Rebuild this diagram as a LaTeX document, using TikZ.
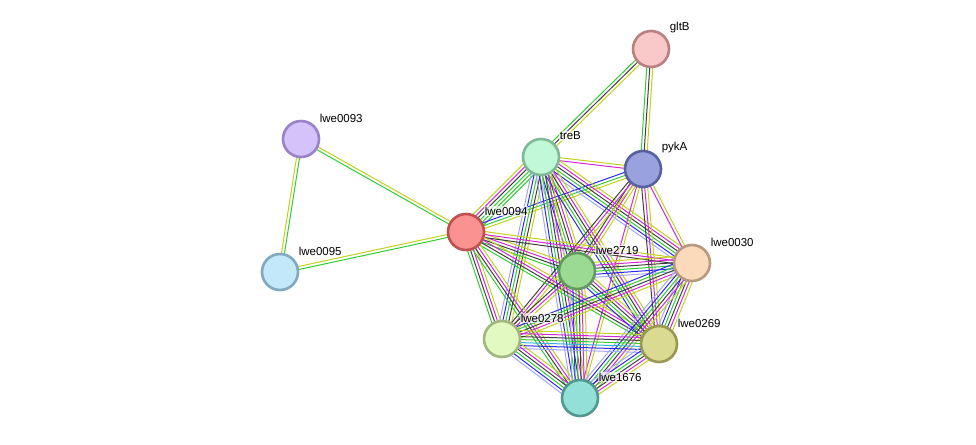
\documentclass[tikz,border=0pt]{standalone}
\usepackage{fontspec}
\setmainfont{Liberation Sans}
\usetikzlibrary{calc, backgrounds}

% evidence channel colours
\definecolor{nbhd}{HTML}{33CC33}
\definecolor{cooc}{HTML}{2B2BF0}
\definecolor{coexp}{HTML}{404040}
\definecolor{expt}{HTML}{D22AD2}
\definecolor{dbase}{HTML}{2EB4DC}
\definecolor{txtm}{HTML}{C2D11E}
\definecolor{homol}{HTML}{A4A8FA}

% one bundle of parallel lines between two proteins
\newcommand{\bundle}[3]{%
  \foreach \c [count=\k] in {#3} {\xdef\nlines{\k}}%
  \foreach \c [count=\k] in {#3} {%
    \pgfmathsetmacro{\off}{(\k-(\nlines+1)/2)*3}%
    \draw[link, draw=\c] ($(#1)!\off pt!90:(#2)$) -- ($(#2)!\off pt!-90:(#1)$);%
  }%
}

\begin{document}
\begin{tikzpicture}[x=1pt, y=-1pt,
    link/.style={line width=1pt},
    prot/.style={circle, line width=2.6pt, minimum size=36pt, inner sep=0pt},
    lbl/.style={anchor=west, inner sep=0.6pt, fill=white, fill opacity=0.65, text opacity=1,
                font=\fontsize{11.5}{13}\selectfont}]
    \useasboundingbox (0,0) rectangle (976,444);

    \node[prot, fill={rgb,255:red,249;green,200;blue,200}, draw={rgb,255:red,184;green,128;blue,128}] (gltB) at (651,49) {};
    \node[prot, fill={rgb,255:red,212;green,194;blue,250}, draw={rgb,255:red,154;green,130;blue,200}] (lwe0093) at (301,139) {};
    \node[prot, fill={rgb,255:red,192;green,248;blue,216}, draw={rgb,255:red,128;green,184;blue,152}] (treB) at (541,157) {};
    \node[prot, fill={rgb,255:red,154;green,162;blue,222}, draw={rgb,255:red,88;green,96;blue,160}] (pykA) at (643,169) {};
    \node[prot, fill={rgb,255:red,250;green,146;blue,146}, draw={rgb,255:red,192;green,80;blue,80}] (lwe0094) at (466,232) {};
    \node[prot, fill={rgb,255:red,194;green,232;blue,250}, draw={rgb,255:red,128;green,168;blue,192}] (lwe0095) at (280,272) {};
    \node[prot, fill={rgb,255:red,154;green,218;blue,146}, draw={rgb,255:red,96;green,152;blue,96}] (lwe2719) at (577,271) {};
    \node[prot, fill={rgb,255:red,250;green,218;blue,186}, draw={rgb,255:red,184;green,152;blue,128}] (lwe0030) at (692,263) {};
    \node[prot, fill={rgb,255:red,226;green,250;blue,194}, draw={rgb,255:red,160;green,184;blue,128}] (lwe0278) at (502,339) {};
    \node[prot, fill={rgb,255:red,218;green,218;blue,146}, draw={rgb,255:red,152;green,152;blue,80}] (lwe0269) at (659,344) {};
    \node[prot, fill={rgb,255:red,146;green,224;blue,216}, draw={rgb,255:red,80;green,152;blue,144}] (lwe1676) at (580,398) {};

    % labels
    \foreach \p in {gltB, lwe0093, treB, pykA, lwe0094, lwe0095, lwe2719, lwe0030, lwe0278, lwe0269, lwe1676}
        \node[lbl] (\p-lbl) at ($(\p)+(18,-21)$) {\p};

    \begin{pgfonlayer}{background}
        \bundle{gltB}{treB}{nbhd, coexp, txtm}
        \bundle{gltB}{pykA}{nbhd, coexp, txtm}
        \bundle{lwe0093}{lwe0094}{nbhd, txtm}
        \bundle{lwe0093}{lwe0095}{txtm, nbhd}
        \bundle{lwe0095}{lwe0094}{nbhd, txtm}
        \bundle{treB}{lwe0094}{txtm, expt, coexp, nbhd, nbhd, nbhd}
        \bundle{lwe0094}{pykA}{txtm, nbhd, cooc}
        \bundle{treB}{pykA}{expt, txtm}
        \bundle{treB}{lwe2719}{homol, cooc, nbhd, coexp, expt, txtm}
        \bundle{treB}{lwe0030}{homol, cooc, nbhd, coexp, expt, txtm}
        \bundle{treB}{lwe0278}{homol, cooc, nbhd, coexp, txtm}
        \bundle{treB}{lwe0269}{cooc, nbhd, coexp, expt, txtm}
        \bundle{treB}{lwe1676}{homol, cooc, nbhd, coexp, expt, txtm}
        \bundle{pykA}{lwe2719}{coexp, expt, txtm}
        \bundle{pykA}{lwe0030}{expt, txtm}
        \bundle{pykA}{lwe0278}{coexp, expt, txtm}
        \bundle{pykA}{lwe0269}{coexp, expt, txtm}
        \bundle{pykA}{lwe1676}{expt, txtm}
        \bundle{lwe0094}{lwe2719}{nbhd, coexp, expt, txtm}
        \bundle{lwe0094}{lwe0030}{coexp, expt, txtm}
        \bundle{lwe0094}{lwe0278}{nbhd, coexp, expt, txtm}
        \bundle{lwe0094}{lwe0269}{nbhd, coexp, expt, txtm}
        \bundle{lwe0094}{lwe1676}{nbhd, coexp, expt, txtm}
        \bundle{lwe2719}{lwe0030}{homol, cooc, nbhd, coexp, expt, txtm}
        \bundle{lwe2719}{lwe0278}{coexp, expt, txtm}
        \bundle{lwe2719}{lwe0269}{cooc, nbhd, coexp, expt, txtm}
        \bundle{lwe2719}{lwe1676}{homol, cooc, nbhd, coexp, expt, txtm}
        \bundle{lwe0030}{lwe0278}{cooc, nbhd, coexp, expt, txtm}
        \bundle{lwe0030}{lwe0269}{homol, cooc, nbhd, coexp, expt, txtm}
        \bundle{lwe0030}{lwe1676}{homol, cooc, nbhd, coexp, expt, txtm}
        \bundle{lwe0278}{lwe0269}{homol, cooc, dbase, nbhd, coexp, expt, txtm}
        \bundle{lwe0278}{lwe1676}{homol, cooc, nbhd, coexp, expt, txtm}
        \bundle{lwe0269}{lwe1676}{homol, cooc, nbhd, coexp, expt, txtm}
    \end{pgfonlayer}
\end{tikzpicture}
\end{document}
